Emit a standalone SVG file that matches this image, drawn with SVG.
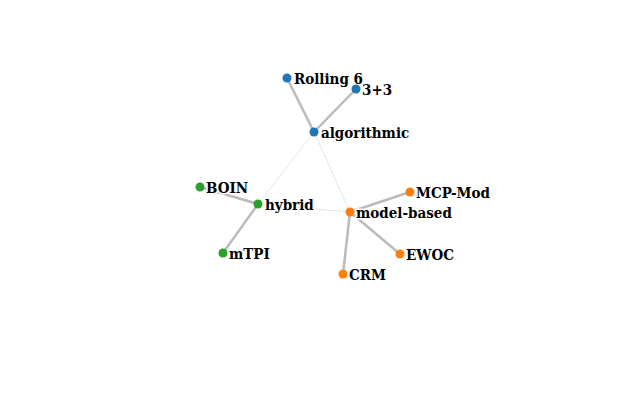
<svg xmlns="http://www.w3.org/2000/svg" width="640" height="400" viewBox="0 0 640 400">
<style>
.hub{stroke:#ddd;stroke-width:0.8;fill:none}
.leaf{stroke:#bbb;stroke-width:2.5;fill:none}
text{font-family:"DejaVu Serif Condensed","DejaVu Serif",serif;font-stretch:condensed;font-weight:900;font-size:15px;fill:#000;stroke:#fff;stroke-width:3;paint-order:stroke;stroke-linejoin:round}
.b{fill:#1f77b4}.o{fill:#ff7f0e}.g{fill:#2ca02c}
</style>
<rect width="640" height="400" fill="#fff"/>
<g id="connectors">
<line class="hub" x1="314" y1="132" x2="258" y2="204"/>
<line class="hub" x1="314" y1="132" x2="350" y2="212"/>
<line class="hub" x1="258" y1="204" x2="350" y2="212"/>
<line class="leaf" x1="314" y1="132" x2="287" y2="78"/>
<line class="leaf" x1="314" y1="132" x2="356" y2="89"/>
<line class="leaf" x1="258" y1="204" x2="200" y2="187"/>
<line class="leaf" x1="258" y1="204" x2="223" y2="253"/>
<line class="leaf" x1="350" y1="212" x2="410" y2="192"/>
<line class="leaf" x1="350" y1="212" x2="400" y2="254"/>
<line class="leaf" x1="350" y1="212" x2="343" y2="274"/>
</g>
<g id="rolling6"><circle class="b" cx="287" cy="78" r="4.5"/><text x="294" y="84">Rolling 6</text></g>
<g id="n33"><circle class="b" cx="356" cy="89" r="4.5"/><text x="362" y="95">3+3</text></g>
<g id="algorithmic"><circle class="b" cx="314" cy="132" r="4.5"/><text x="321" y="138">algorithmic</text></g>
<g id="boin"><circle class="g" cx="200" cy="187" r="4.5"/><text x="206" y="193">BOIN</text></g>
<g id="hybrid"><circle class="g" cx="258" cy="204" r="4.5"/><text x="265" y="210">hybrid</text></g>
<g id="mtpi"><circle class="g" cx="223" cy="253" r="4.5"/><text x="229" y="259">mTPI</text></g>
<g id="modelbased"><circle class="o" cx="350" cy="212" r="4.5"/><text x="356" y="218">model-based</text></g>
<g id="mcpmod"><circle class="o" cx="410" cy="192" r="4.5"/><text x="416" y="198">MCP-Mod</text></g>
<g id="ewoc"><circle class="o" cx="400" cy="254" r="4.5"/><text x="406" y="260">EWOC</text></g>
<g id="crm"><circle class="o" cx="343" cy="274" r="4.5"/><text x="349" y="280">CRM</text></g>
</svg>
